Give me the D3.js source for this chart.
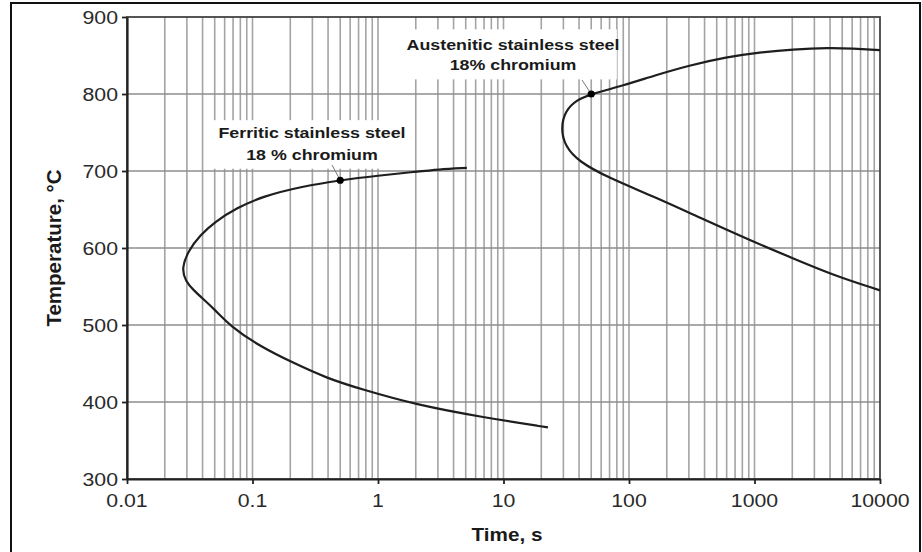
<!DOCTYPE html>
<html>
<head>
<meta charset="utf-8">
<script src="https://cdn.jsdelivr.net/npm/d3@7"></script>
<style>
  html, body { margin: 0; padding: 0; background: #fff; }
  svg { display: block; font-family: "Liberation Sans", Arial, Helvetica, sans-serif; }
</style>
</head>
<body>
<svg id="chart" width="922" height="552"></svg>
<script>
// Isothermal precipitation curves (C-curves) for two 18 % Cr stainless steels
const ferriticTime = [5.1, 3.0, 2.0, 1.0, 0.5, 0.25, 0.12, 0.075, 0.050, 0.038, 0.031, 0.0272, 0.0292, 0.034, 0.041, 0.050, 0.066, 0.115, 0.21, 0.39, 0.72, 2.05, 6.9, 22.6];
const ferriticTemp = [704, 702, 699, 694, 688, 680, 667, 652, 634, 616, 597, 574, 557, 545, 533, 520, 499, 472, 451, 431, 417, 396, 380, 367];

const austeniticTime = [10000, 6000, 4000, 2000, 1100, 600, 300, 160, 90, 50, 38, 31, 28.6, 31, 40, 67, 167, 370, 920, 2000, 4200, 10000];
const austeniticTemp = [857, 859, 860, 858, 854, 848, 837, 824, 811, 800, 792, 778, 755, 732, 712, 692, 665, 639, 610, 587, 565, 545];

// marked points on each curve
const markerTime = [0.5, 50];
const markerTemp = [688, 800];

const xTickValues = [0.01, 0.1, 1, 10, 100, 1000, 10000];
const xTickLabels = ["0.01", "0.1", "1", "10", "100", "1000", "10000"];
const yTickValues = [300, 400, 500, 600, 700, 800, 900];

const labelLines = [
  ["Ferritic stainless steel", "18 % chromium"],
  ["Austenitic stainless steel", "18% chromium"]
];

const svg = d3.select("#chart");
const plot = { left: 127, right: 880, top: 17, bottom: 479 };

const x = d3.scaleLog().domain([0.01, 10000]).range([plot.left, plot.right]);
const y = d3.scaleLinear().domain([300, 900]).range([plot.bottom, plot.top]);

const HS = 1.15; // horizontal text stretch

function stretchedText(g, px, py, str, size, weight, anchor) {
  return g.append("text")
    .attr("transform", `translate(${px},${py}) scale(${HS},1)`)
    .attr("text-anchor", anchor)
    .attr("font-size", size)
    .attr("font-weight", weight)
    .attr("fill", "#1a1a1a")
    .text(str);
}

// outer frame
svg.append("rect")
  .attr("x", 11).attr("y", 3).attr("width", 909).attr("height", 570)
  .attr("fill", "none").attr("stroke", "#111").attr("stroke-width", 2);

// grid
const grid = svg.append("g");
grid.selectAll("line.v")
  .data(x.ticks().filter(t => t > 0.0100001 && t < 9999))
  .join("line")
  .attr("x1", d => x(d)).attr("x2", d => x(d))
  .attr("y1", plot.top).attr("y2", plot.bottom)
  .attr("stroke", "#a4a4a4").attr("stroke-width", 1.6);
grid.selectAll("line.h")
  .data(yTickValues.slice(1, -1))
  .join("line")
  .attr("x1", plot.left).attr("x2", plot.right)
  .attr("y1", d => y(d)).attr("y2", d => y(d))
  .attr("stroke", "#8e8e8e").attr("stroke-width", 1.6);

// label boxes clear the grid behind the annotations
const boxes = [
  { t0: 0.0455, t1: 1.85, T0: 703, T1: 766 },
  { t0: 1.66, t1: 80, T0: 819, T1: 884 }
];
svg.selectAll("rect.box")
  .data(boxes)
  .join("rect")
  .attr("x", d => x(d.t0)).attr("width", d => x(d.t1) - x(d.t0))
  .attr("y", d => y(d.T1)).attr("height", d => y(d.T0) - y(d.T1))
  .attr("fill", "#fff");

// plot frame (top & right)
svg.append("rect")
  .attr("x", plot.left).attr("y", plot.top)
  .attr("width", plot.right - plot.left).attr("height", plot.bottom - plot.top)
  .attr("fill", "none").attr("stroke", "#444").attr("stroke-width", 1.8);

// axes
const xAxis = svg.append("g")
  .attr("transform", `translate(0,${plot.bottom})`)
  .call(d3.axisBottom(x).tickValues(xTickValues).tickSize(5).tickFormat("").tickSizeOuter(0));
const yAxis = svg.append("g")
  .attr("transform", `translate(${plot.left},0)`)
  .call(d3.axisLeft(y).tickValues(yTickValues).tickSize(5).tickFormat("").tickSizeOuter(0));
[xAxis, yAxis].forEach(a => {
  a.select(".domain").attr("stroke", "#222").attr("stroke-width", 2.2);
  a.selectAll(".tick line").attr("stroke", "#222").attr("stroke-width", 1.8);
});

// tick labels
const tl = svg.append("g");
xTickValues.forEach((v, i) => {
  stretchedText(tl, x(v), 507, xTickLabels[i], 18.5, "normal", "middle").attr("fill", "#2a2a2a");
});
yTickValues.forEach(v => {
  stretchedText(tl, 118, y(v) + 6.5, String(v), 18.5, "normal", "end").attr("fill", "#2a2a2a");
});

// axis titles
stretchedText(svg, 507, 541, "Time, s", 18, "bold", "middle");
svg.append("text")
  .attr("transform", `translate(61,${(plot.top + plot.bottom) / 2}) rotate(-90)`)
  .attr("text-anchor", "middle")
  .attr("font-size", 20.5).attr("font-weight", "bold").attr("fill", "#1a1a1a")
  .text("Temperature, °C");

// curves
const line = d3.line()
  .x(d => x(d[0])).y(d => y(d[1]))
  .curve(d3.curveBasis);
const ferritic = ferriticTime.map((t, i) => [t, ferriticTemp[i]]);
const austenitic = austeniticTime.map((t, i) => [t, austeniticTemp[i]]);
svg.selectAll("path.curve")
  .data([ferritic, austenitic])
  .join("path")
  .attr("d", line)
  .attr("fill", "none").attr("stroke", "#1e1e1e").attr("stroke-width", 2.2);

// annotations
const labelPos = [
  { cx: 312, y1: 138, y2: 160, lx: 332, ly: 165 },
  { cx: 513, y1: 50, y2: 70, lx: 582, ly: 80 }
];
labelPos.forEach((p, i) => {
  stretchedText(svg, p.cx, p.y1, labelLines[i][0], 15.5, "bold", "middle");
  stretchedText(svg, p.cx, p.y2, labelLines[i][1], 15.5, "bold", "middle");
  svg.append("line")
    .attr("x1", p.lx).attr("y1", p.ly)
    .attr("x2", x(markerTime[i])).attr("y2", y(markerTemp[i]))
    .attr("stroke", "#777").attr("stroke-width", 1);
});
svg.selectAll("circle.marker")
  .data(markerTime.map((t, i) => [t, markerTemp[i]]))
  .join("circle")
  .attr("cx", d => x(d[0])).attr("cy", d => y(d[1]))
  .attr("r", 3.6).attr("fill", "#000");
</script>
</body>
</html>
